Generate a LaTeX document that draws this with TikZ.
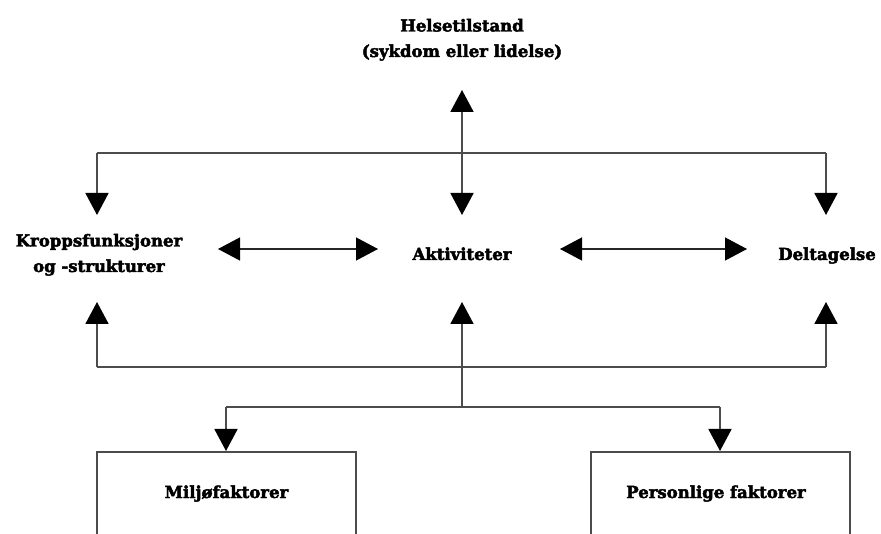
\documentclass[tikz,border=0pt]{standalone}
\usepackage{fontspec}
\setmainfont{DejaVu Serif}
\usetikzlibrary{arrows.meta}
\newcommand{\heavytext}[1]{\special{pdf:literal direct 2 Tr 0.45 w}#1\special{pdf:literal direct 0 Tr}}
\tikzset{
  lbl/.style={font=\bfseries\fontsize{16.5}{25.5}\selectfont, inner sep=0pt, align=center},
  conn/.style={draw=black!70, line width=1.8pt},
  thin/.style={draw=black!85, line width=1.3pt},
  tip/.style={-{Triangle[width=23pt,length=22pt,black]}},
  dtip/.style={{Triangle[width=23pt,length=22pt,black]}-{Triangle[width=23pt,length=22pt,black]}},
  fbox/.style={draw=black!70, line width=1.6pt, minimum width=259pt, minimum height=160pt, anchor=north, inner sep=0pt},
}
\begin{document}
\begin{tikzpicture}[x=1pt,y=-1pt]
\clip (0,0) rectangle (881,534);
\useasboundingbox (0,0) rectangle (881,534);
% text nodes
\node[lbl, anchor=base] (H) at (462,57) {\heavytext{Helsetilstand}\\\heavytext{(sykdom eller lidelse)}};
\node[lbl, anchor=base] (K) at (99,272) {\heavytext{Kroppsfunksjoner}\\\heavytext{og -strukturer}};
\node[lbl, anchor=base] (A) at (462,260) {\heavytext{Aktiviteter}};
\node[lbl, anchor=base] (D) at (827,260) {\heavytext{Deltagelse}};
% boxes
\node[fbox] (M) at (226.5,451) {};
\node[fbox] (P) at (720.5,451) {};
\node[lbl, anchor=base] (Mt) at (226.5,498) {\heavytext{Miljøfaktorer}};
\node[lbl, anchor=base] (Pt) at (716,498) {\heavytext{Personlige faktorer}};
% coordinates
\coordinate (tH) at (462,90);
\coordinate (tAtop) at (462,215);
\coordinate (tKtop) at (97,215);
\coordinate (tDtop) at (826,215);
\coordinate (jTL) at (97,153);
\coordinate (jTR) at (826,153);
\coordinate (tKbot) at (97,302);
\coordinate (tDbot) at (826,302);
\coordinate (tAbot) at (462,302);
\coordinate (jBL) at (97,367);
\coordinate (jBR) at (826,367);
\coordinate (jC) at (462,407);
\coordinate (jML) at (226,407);
\coordinate (jPR) at (720,407);
\coordinate (hL1) at (218,249);
\coordinate (hL2) at (378,249);
\coordinate (hR1) at (560,249);
\coordinate (hR2) at (747,249);
% top
\draw[conn] (jTL) -- (jTR);
\draw[conn, tip] (jTL) -- (tKtop);
\draw[conn, tip] (jTR) -- (tDtop);
\draw[conn, dtip] (tH) -- (tAtop);
% horizontal double arrows
\draw[thin, dtip] (hL1) -- (hL2);
\draw[thin, dtip] (hR1) -- (hR2);
% bottom
\draw[conn] (jBL) -- (jBR);
\draw[conn, tip] (jBL) -- (tKbot);
\draw[conn, tip] (jBR) -- (tDbot);
\draw[conn, tip] (jC) -- (tAbot);
\draw[conn] (jML) -- (jPR);
\draw[conn, tip] (jML) -- (jML |- M.north);
\draw[conn, tip] (jPR) -- (jPR |- P.north);
\end{tikzpicture}
\end{document}
